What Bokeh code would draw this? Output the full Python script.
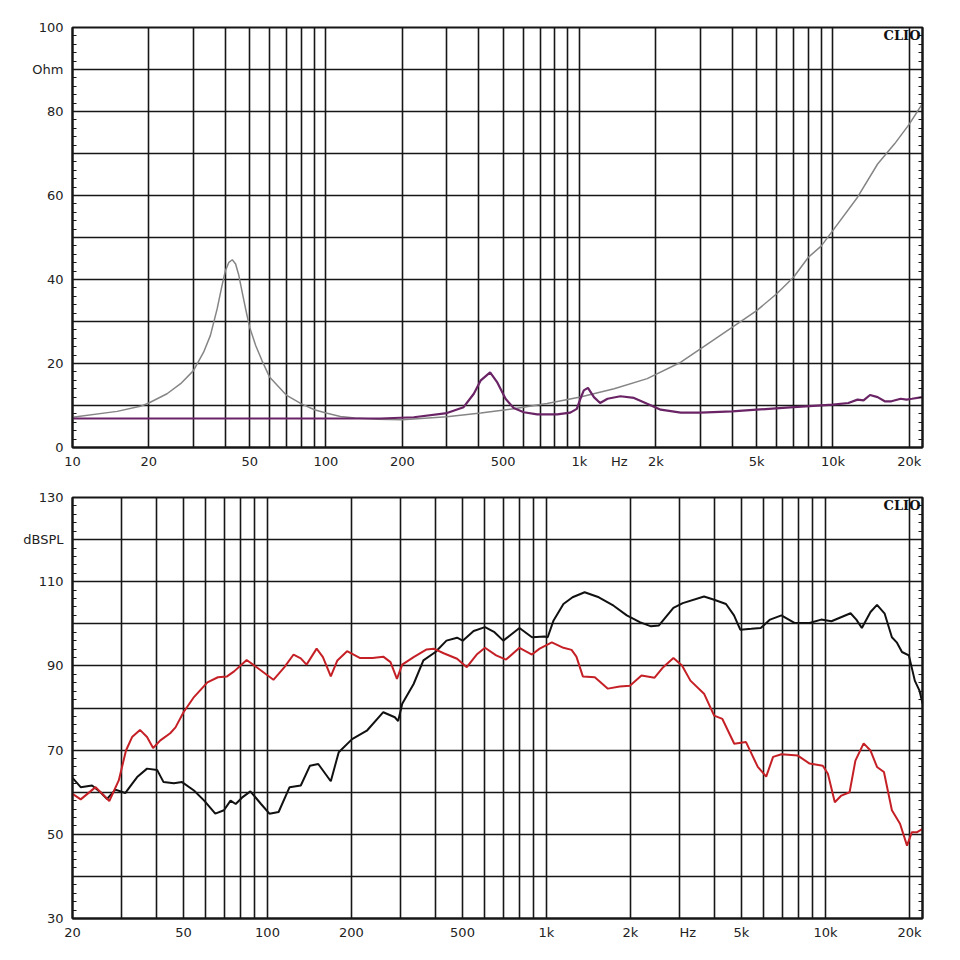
from bokeh.plotting import figure
from bokeh.models import FixedTicker, LinearAxis, Label, Range1d
from bokeh.layouts import column
from bokeh.embed import file_html
from bokeh.resources import INLINE

# ---------------- impedance chart (top) ----------------
imp_gray_f = [10, 15, 18.5, 20, 23.6, 26.7, 30, 32.9, 35.0, 37.2, 38.9, 40.1, 41.4, 42.7, 44.0,
              45.3, 46.7, 48.5, 50, 52.8, 55.9, 60, 70, 80, 90, 100, 114, 130, 160, 200, 300,
              408, 550, 745, 1008, 1370, 1850, 2510, 3000, 4000, 5000, 6000, 7000, 8000, 9000,
              10000, 12500, 15000, 17500, 20000, 22500]
imp_gray_z = [7.2, 8.6, 9.8, 10.6, 12.8, 15.2, 18.3, 22.7, 26.7, 33.0, 38.6, 42.1, 44.1, 44.7,
              43.7, 41.0, 37.0, 32.2, 28.6, 24.3, 20.7, 16.7, 12.4, 10.4, 9.0, 8.2, 7.4, 7.0,
              6.7, 6.6, 7.3, 8.2, 9.2, 10.5, 12.0, 14.0, 16.4, 20.3, 23.5, 28.6, 32.6, 36.6,
              40.6, 45.3, 48.0, 51.7, 59.6, 67.5, 72.3, 77.0, 81.8]

imp_purple_f = [10, 50, 100, 164, 222, 300, 349, 383, 408, 444, 474, 511, 550, 603, 681, 817,
                920, 976, 1008, 1040, 1080, 1140, 1206, 1290, 1450, 1640, 1850, 2090, 2510,
                3000, 4000, 5000, 7000, 10000, 11500, 12500, 13200, 14000, 15000, 16000, 17000,
                18500, 19500, 20500, 22500]
imp_purple_z = [6.9, 6.9, 6.9, 6.9, 7.2, 8.2, 9.6, 12.8, 16.0, 17.9, 15.5, 11.6, 9.4, 8.4, 7.9,
                7.9, 8.3, 9.2, 11.6, 13.6, 14.2, 12.0, 10.6, 11.6, 12.2, 11.8, 10.4, 9.0, 8.3,
                8.3, 8.6, 9.0, 9.6, 10.2, 10.6, 11.4, 11.2, 12.5, 12.0, 11.0, 11.0, 11.6, 11.4,
                11.6, 12.0]

imp_xtick_vals = [10, 20, 50, 100, 200, 500, 1000, 1435, 2000, 5000, 10000, 20000]
imp_xtick_labels = ["10", "20", "50", "100", "200", "500", "1k", "Hz", "2k", "5k", "10k", "20k"]
imp_ytick_vals = [0, 20, 40, 60, 80, 90, 100]
imp_ytick_labels = ["0", "20", "40", "60", "80", "Ohm", "100"]

# ---------------- SPL chart (bottom) ----------------
spl_red_f = [20, 21.4, 24.2, 27.1, 29.3, 31.1, 32.7, 34.9, 37.0, 38.9, 41.3, 44.8, 46.8, 50.0,
             54.5, 60.9, 66.4, 71.6, 75.9, 84.2, 94.8, 105, 115, 124, 131.6, 138, 150, 158,
             168.6, 178, 192.8, 214, 238, 260, 276, 291, 304, 334, 372, 394, 428, 478, 518,
             562, 602, 660, 716, 800, 887, 945, 1045, 1150, 1230, 1280, 1350, 1490, 1660,
             1830, 1990, 2190, 2440, 2620, 2850, 3060, 3280, 3670, 3990, 4270, 4710, 5190,
             5720, 6130, 6490, 6950, 7960, 8770, 9780, 10200, 10800, 11400, 12200, 12800,
             13700, 14500, 15300, 16200, 17300, 18500, 19600, 20400, 21300, 22300]
spl_red_db = [59.6, 58.3, 61.2, 57.9, 62.8, 69.9, 73.1, 74.8, 73.1, 70.5, 72.3, 74.0, 75.4, 79.0,
              82.6, 86.1, 87.3, 87.5, 88.7, 91.4, 88.9, 86.7, 89.7, 92.7, 91.8, 90.3, 94.1, 92.1,
              87.5, 91.3, 93.5, 91.9, 91.9, 92.2, 90.9, 86.9, 90.3, 92.1, 93.9, 94.1, 93.0, 91.7,
              89.7, 92.7, 94.3, 92.5, 91.5, 94.3, 92.7, 94.1, 95.6, 94.3, 93.8, 92.2, 87.5, 87.3,
              84.6, 85.1, 85.3, 87.7, 87.2, 89.7, 91.9, 90.1, 86.5, 83.4, 78.2, 77.4, 71.5, 71.9,
              66.0, 63.7, 68.4, 69.0, 68.7, 66.8, 66.3, 64.4, 57.6, 59.2, 60.0, 67.5, 71.6, 69.9,
              66.0, 64.8, 55.7, 52.5, 47.3, 50.5, 50.5, 51.3]

spl_black_f = [20, 21.4, 23.5, 25.2, 26.6, 28.5, 30.9, 32.7, 34.1, 37.0, 40.2, 42.4, 46.2, 49.4,
               54.5, 59.3, 65.0, 69.8, 73.7, 76.9, 81.0, 86.8, 94.8, 101.6, 109.6, 120, 131.6,
               142, 152, 168.6, 180, 201, 227, 260, 286, 294, 304, 334, 362, 400, 438, 478, 501,
               548, 602, 651, 700, 800, 887, 985, 1010, 1060, 1150, 1240, 1370, 1540, 1740,
               1940, 2160, 2370, 2530, 2850, 3080, 3670, 3990, 4400, 4700, 4950, 5420, 5860,
               6330, 6950, 7740, 8770, 9650, 10500, 12300, 12900, 13500, 14500, 15300, 16300,
               17300, 18000, 18800, 19900, 20900, 21700, 22300]
spl_black_db = [63.4, 61.2, 61.6, 60.0, 58.4, 60.6, 59.8, 62.0, 63.6, 65.6, 65.3, 62.4, 62.1,
                62.4, 60.4, 58.0, 54.9, 55.7, 58.0, 57.2, 58.7, 60.2, 57.2, 54.9, 55.3, 61.2,
                61.6, 66.3, 66.7, 62.6, 69.5, 72.6, 74.6, 79.0, 77.8, 76.9, 81.0, 85.7, 91.3,
                93.3, 96.0, 96.7, 96.0, 98.3, 99.2, 98.0, 96.0, 99.0, 96.8, 97.0, 96.8, 100.8,
                104.7, 106.3, 107.5, 106.3, 104.3, 102.0, 100.4, 99.4, 99.6, 103.8, 104.9,
                106.5, 105.7, 104.7, 102.0, 98.6, 98.8, 99.0, 101.0, 102.0, 100.2, 100.2, 101.0,
                100.6, 102.5, 101.0, 99.0, 102.8, 104.5, 102.4, 96.8, 95.6, 93.3, 92.5, 86.5,
                84.2, 81.0]

spl_xtick_vals = [20, 50, 100, 200, 500, 1000, 2000, 3210, 5000, 10000, 20000]
spl_xtick_labels = ["20", "50", "100", "200", "500", "1k", "2k", "Hz", "5k", "10k", "20k"]
spl_ytick_vals = [30, 50, 70, 90, 110, 120, 130]
spl_ytick_labels = ["30", "50", "70", "90", "110", "dBSPL", "130"]

INK = "#161616"
LABEL_FONT = "DejaVu Sans"


def make_fig(x0, x1, y0, y1, xt_vals, xt_labels, yt_vals, yt_labels, fh, top_border):
    p = figure(x_axis_type="log", x_range=Range1d(x0, x1), y_range=Range1d(y0, y1),
               frame_width=850, frame_height=fh,
               min_border_left=72, min_border_right=30, min_border_top=top_border,
               min_border_bottom=30, output_backend="svg", toolbar_location=None,
               background_fill_color="white", border_fill_color="white")
    p.outline_line_color = INK
    p.outline_line_width = 2

    xa = p.xaxis[0]
    xa.ticker = FixedTicker(ticks=xt_vals)
    xa.major_label_overrides = dict(zip(xt_vals, xt_labels))
    xa.major_tick_in = 0
    xa.major_tick_out = 0
    xa.minor_tick_in = 0
    xa.minor_tick_out = 0
    xa.axis_line_width = 2
    xa.axis_line_color = INK
    xa.major_label_standoff = 6
    xa.major_label_text_font = LABEL_FONT
    xa.major_label_text_font_size = "13px"
    xa.major_label_text_color = "#222222"

    minor = [v for v in range(y0, y1 + 1, 2) if (v - y0) % 10]
    ya = p.yaxis[0]
    ya.ticker = FixedTicker(ticks=yt_vals, minor_ticks=minor)
    ya.major_label_overrides = dict(zip(yt_vals, yt_labels))
    ya.major_tick_in = 4
    ya.major_tick_out = 0
    ya.minor_tick_in = 4
    ya.minor_tick_out = 0
    ya.major_tick_line_color = INK
    ya.minor_tick_line_color = INK
    ya.axis_line_width = 2
    ya.axis_line_color = INK
    ya.major_label_standoff = 9
    ya.major_label_text_font = LABEL_FONT
    ya.major_label_text_font_size = "13px"
    ya.major_label_text_color = "#222222"

    ra = LinearAxis(ticker=FixedTicker(ticks=[], minor_ticks=minor),
                    major_tick_in=0, major_tick_out=0, minor_tick_in=4, minor_tick_out=0,
                    minor_tick_line_color=INK, axis_line_width=2, axis_line_color=INK,
                    major_label_text_font_size="0px")
    p.add_layout(ra, "right")

    gridf = []
    d = 1
    while d < x1:
        for k in range(1, 10):
            v = k * d
            if x0 <= v <= x1:
                gridf.append(v)
        d *= 10
    p.xgrid.ticker = FixedTicker(ticks=gridf)
    p.ygrid.ticker = FixedTicker(ticks=list(range(y0, y1 + 1, 10)))
    for g in (p.xgrid, p.ygrid):
        g.grid_line_color = INK
        g.grid_line_width = 1.6
        g.grid_line_alpha = 1.0

    p.add_layout(Label(x=x1, y=y1, text="CLIO", text_align="right", text_baseline="top",
                       x_offset=-2, y_offset=0, text_font="DejaVu Serif",
                       text_font_style="bold", text_font_size="13px", text_color="#111111"))
    return p


p1 = make_fig(10, 22550, 0, 100, imp_xtick_vals, imp_xtick_labels,
              imp_ytick_vals, imp_ytick_labels, 420, 27)
p1.line(imp_gray_f, imp_gray_z, line_color="#858585", line_width=1.5)
p1.line(imp_purple_f, imp_purple_z, line_color="#6a2466", line_width=2.2)

p2 = make_fig(20, 22270, 30, 130, spl_xtick_vals, spl_xtick_labels,
              spl_ytick_vals, spl_ytick_labels, 421, 20)
p2.line(spl_black_f, spl_black_db, line_color="#111111", line_width=2)
p2.line(spl_red_f, spl_red_db, line_color="#c42026", line_width=2)

layout = column(p1, p2)
open("out.html", "w").write(file_html(layout, INLINE))
